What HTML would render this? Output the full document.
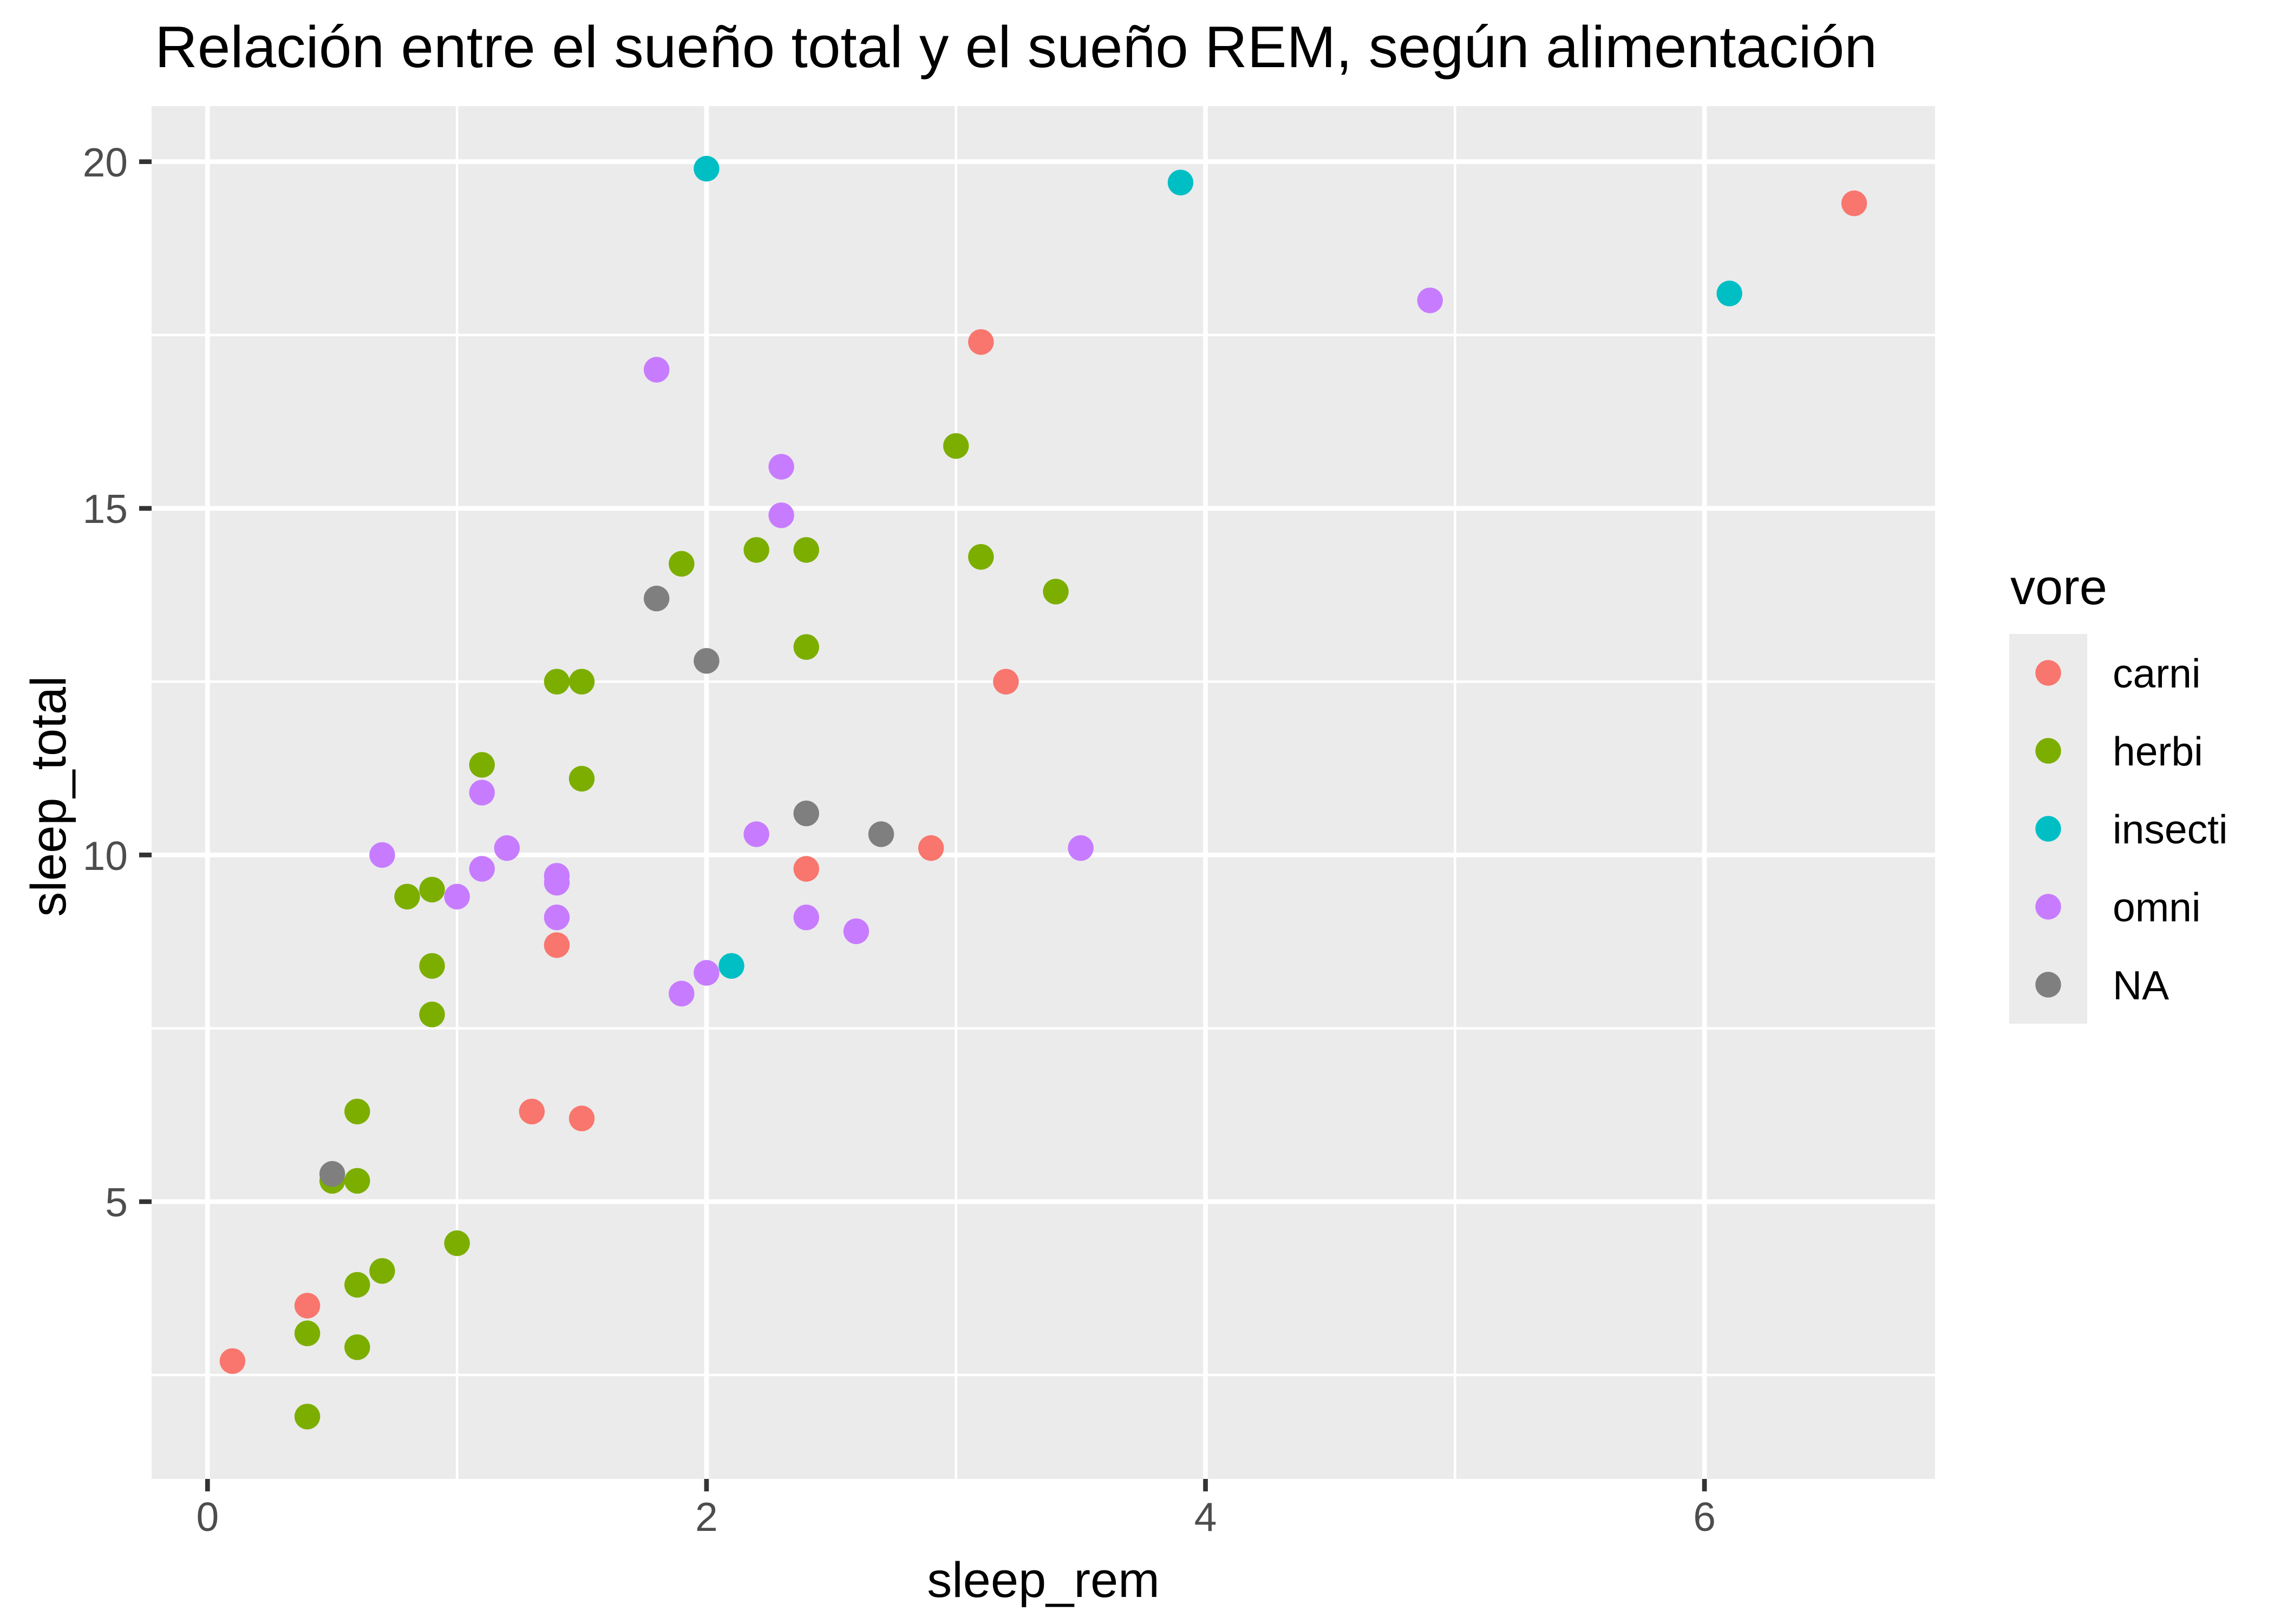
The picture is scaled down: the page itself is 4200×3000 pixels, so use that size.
<!DOCTYPE html>
<html><head><meta charset="utf-8"><style>html,body{margin:0;padding:0;background:#fff}svg{display:block}</style></head>
<body>
<svg xmlns="http://www.w3.org/2000/svg" width="4200" height="3000" viewBox="0 0 4200 3000" font-family="Liberation Sans, sans-serif">
<rect width="4200" height="3000" fill="#fff"/>
<rect x="280" y="196" width="3294" height="2536" fill="#EBEBEB"/>
<g stroke="#fff" stroke-width="4.5">
<line x1="844.1" x2="844.1" y1="196" y2="2732"/><line x1="1765.7" x2="1765.7" y1="196" y2="2732"/><line x1="2687.3" x2="2687.3" y1="196" y2="2732"/>
<line x1="280" x2="3574" y1="2540" y2="2540"/><line x1="280" x2="3574" y1="1899.6" y2="1899.6"/><line x1="280" x2="3574" y1="1259.2" y2="1259.2"/><line x1="280" x2="3574" y1="618.9" y2="618.9"/>
</g>
<g stroke="#fff" stroke-width="8.7">
<line x1="383.3" x2="383.3" y1="196" y2="2732"/><line x1="1304.9" x2="1304.9" y1="196" y2="2732"/><line x1="2226.5" x2="2226.5" y1="196" y2="2732"/><line x1="3148.1" x2="3148.1" y1="196" y2="2732"/>
<line x1="280" x2="3574" y1="2219.8" y2="2219.8"/><line x1="280" x2="3574" y1="1579.4" y2="1579.4"/><line x1="280" x2="3574" y1="939.1" y2="939.1"/><line x1="280" x2="3574" y1="298.7" y2="298.7"/>
</g>
<g stroke="#333" stroke-width="8.7">
<line x1="383.3" x2="383.3" y1="2732" y2="2755"/><line x1="1304.9" x2="1304.9" y1="2732" y2="2755"/><line x1="2226.5" x2="2226.5" y1="2732" y2="2755"/><line x1="3148.1" x2="3148.1" y1="2732" y2="2755"/>
<line x1="257" x2="280" y1="2219.8" y2="2219.8"/><line x1="257" x2="280" y1="1579.4" y2="1579.4"/><line x1="257" x2="280" y1="939.1" y2="939.1"/><line x1="257" x2="280" y1="298.7" y2="298.7"/>
</g>
<g fill="#4D4D4D" font-size="75">
<g text-anchor="middle"><text x="383.3" y="2828">0</text><text x="1304.9" y="2828">2</text><text x="2226.5" y="2828">4</text><text x="3148.1" y="2828">6</text></g>
<g text-anchor="end"><text x="236" y="2247">5</text><text x="236" y="1607">10</text><text x="236" y="966">15</text><text x="236" y="326">20</text></g>
</g>
<text x="1927" y="2950" font-size="92" text-anchor="middle">sleep_rem</text>
<text transform="translate(121,1471) rotate(-90)" font-size="92" text-anchor="middle">sleep_total</text>
<text x="286" y="124" font-size="109">Relación entre el sueño total y el sueño REM, según alimentación</text>
<text x="3713" y="1116" font-size="92">vore</text>
<rect x="3711" y="1171" width="144" height="720" fill="#EBEBEB"/>
<g font-size="75">
<circle cx="3783" cy="1243" r="23.7" fill="#F8766D"/><text x="3902" y="1270">carni</text>
<circle cx="3783" cy="1387" r="23.7" fill="#7CAE00"/><text x="3902" y="1414">herbi</text>
<circle cx="3783" cy="1531" r="23.7" fill="#00BFC4"/><text x="3902" y="1558">insecti</text>
<circle cx="3783" cy="1675" r="23.7" fill="#C77CFF"/><text x="3902" y="1702">omni</text>
<circle cx="3783" cy="1819" r="23.7" fill="#7F7F7F"/><text x="3902" y="1846">NA</text>
</g>
<g fill="#F8766D">
<circle cx="429.4" cy="2514.3" r="23.7"/><circle cx="567.6" cy="2411.9" r="23.7"/><circle cx="982.3" cy="2053.3" r="23.7"/><circle cx="1074.5" cy="2066.1" r="23.7"/><circle cx="1028.4" cy="1745.9" r="23.7"/><circle cx="1489.2" cy="1605" r="23.7"/><circle cx="1719.6" cy="1566.6" r="23.7"/><circle cx="1857.9" cy="1259.2" r="23.7"/><circle cx="1811.8" cy="631.8" r="23.7"/><circle cx="3424.6" cy="375.6" r="23.7"/>
</g>
<g fill="#7CAE00">
<circle cx="567.6" cy="2616.8" r="23.7"/><circle cx="567.6" cy="2463.1" r="23.7"/><circle cx="659.8" cy="2488.7" r="23.7"/><circle cx="659.8" cy="2373.4" r="23.7"/><circle cx="705.9" cy="2347.8" r="23.7"/><circle cx="844.1" cy="2296.6" r="23.7"/><circle cx="613.7" cy="2181.3" r="23.7"/><circle cx="659.8" cy="2181.3" r="23.7"/><circle cx="659.8" cy="2053.3" r="23.7"/><circle cx="798" cy="1874" r="23.7"/><circle cx="798" cy="1784.3" r="23.7"/><circle cx="752" cy="1656.3" r="23.7"/><circle cx="798" cy="1643.4" r="23.7"/><circle cx="890.2" cy="1412.9" r="23.7"/><circle cx="1074.5" cy="1438.5" r="23.7"/><circle cx="1028.4" cy="1259.2" r="23.7"/><circle cx="1074.5" cy="1259.2" r="23.7"/><circle cx="1258.8" cy="1041.5" r="23.7"/><circle cx="1397.1" cy="1015.9" r="23.7"/><circle cx="1489.2" cy="1015.9" r="23.7"/><circle cx="1489.2" cy="1195.2" r="23.7"/><circle cx="1811.8" cy="1028.7" r="23.7"/><circle cx="1950" cy="1092.8" r="23.7"/><circle cx="1765.7" cy="823.8" r="23.7"/>
</g>
<g fill="#00BFC4">
<circle cx="1304.9" cy="311.6" r="23.7"/><circle cx="2180.4" cy="337.2" r="23.7"/><circle cx="3194.2" cy="542.1" r="23.7"/><circle cx="1351" cy="1784.3" r="23.7"/>
</g>
<g fill="#C77CFF">
<circle cx="705.9" cy="1579.4" r="23.7"/><circle cx="844.1" cy="1656.3" r="23.7"/><circle cx="890.2" cy="1605" r="23.7"/><circle cx="890.2" cy="1464.2" r="23.7"/><circle cx="936.3" cy="1566.6" r="23.7"/><circle cx="1028.4" cy="1617.8" r="23.7"/><circle cx="1028.4" cy="1630.6" r="23.7"/><circle cx="1028.4" cy="1694.7" r="23.7"/><circle cx="1212.7" cy="683" r="23.7"/><circle cx="1443.1" cy="862.2" r="23.7"/><circle cx="1443.1" cy="951.9" r="23.7"/><circle cx="1397.1" cy="1541" r="23.7"/><circle cx="1489.2" cy="1694.7" r="23.7"/><circle cx="1581.4" cy="1720.3" r="23.7"/><circle cx="1258.8" cy="1835.5" r="23.7"/><circle cx="1304.9" cy="1797.1" r="23.7"/><circle cx="1996.1" cy="1566.6" r="23.7"/><circle cx="2641.2" cy="554.9" r="23.7"/>
</g>
<g fill="#7F7F7F">
<circle cx="613.7" cy="2168.5" r="23.7"/><circle cx="1212.7" cy="1105.6" r="23.7"/><circle cx="1304.9" cy="1220.8" r="23.7"/><circle cx="1489.2" cy="1502.6" r="23.7"/><circle cx="1627.5" cy="1541" r="23.7"/>
</g>
</svg>
</body></html>
